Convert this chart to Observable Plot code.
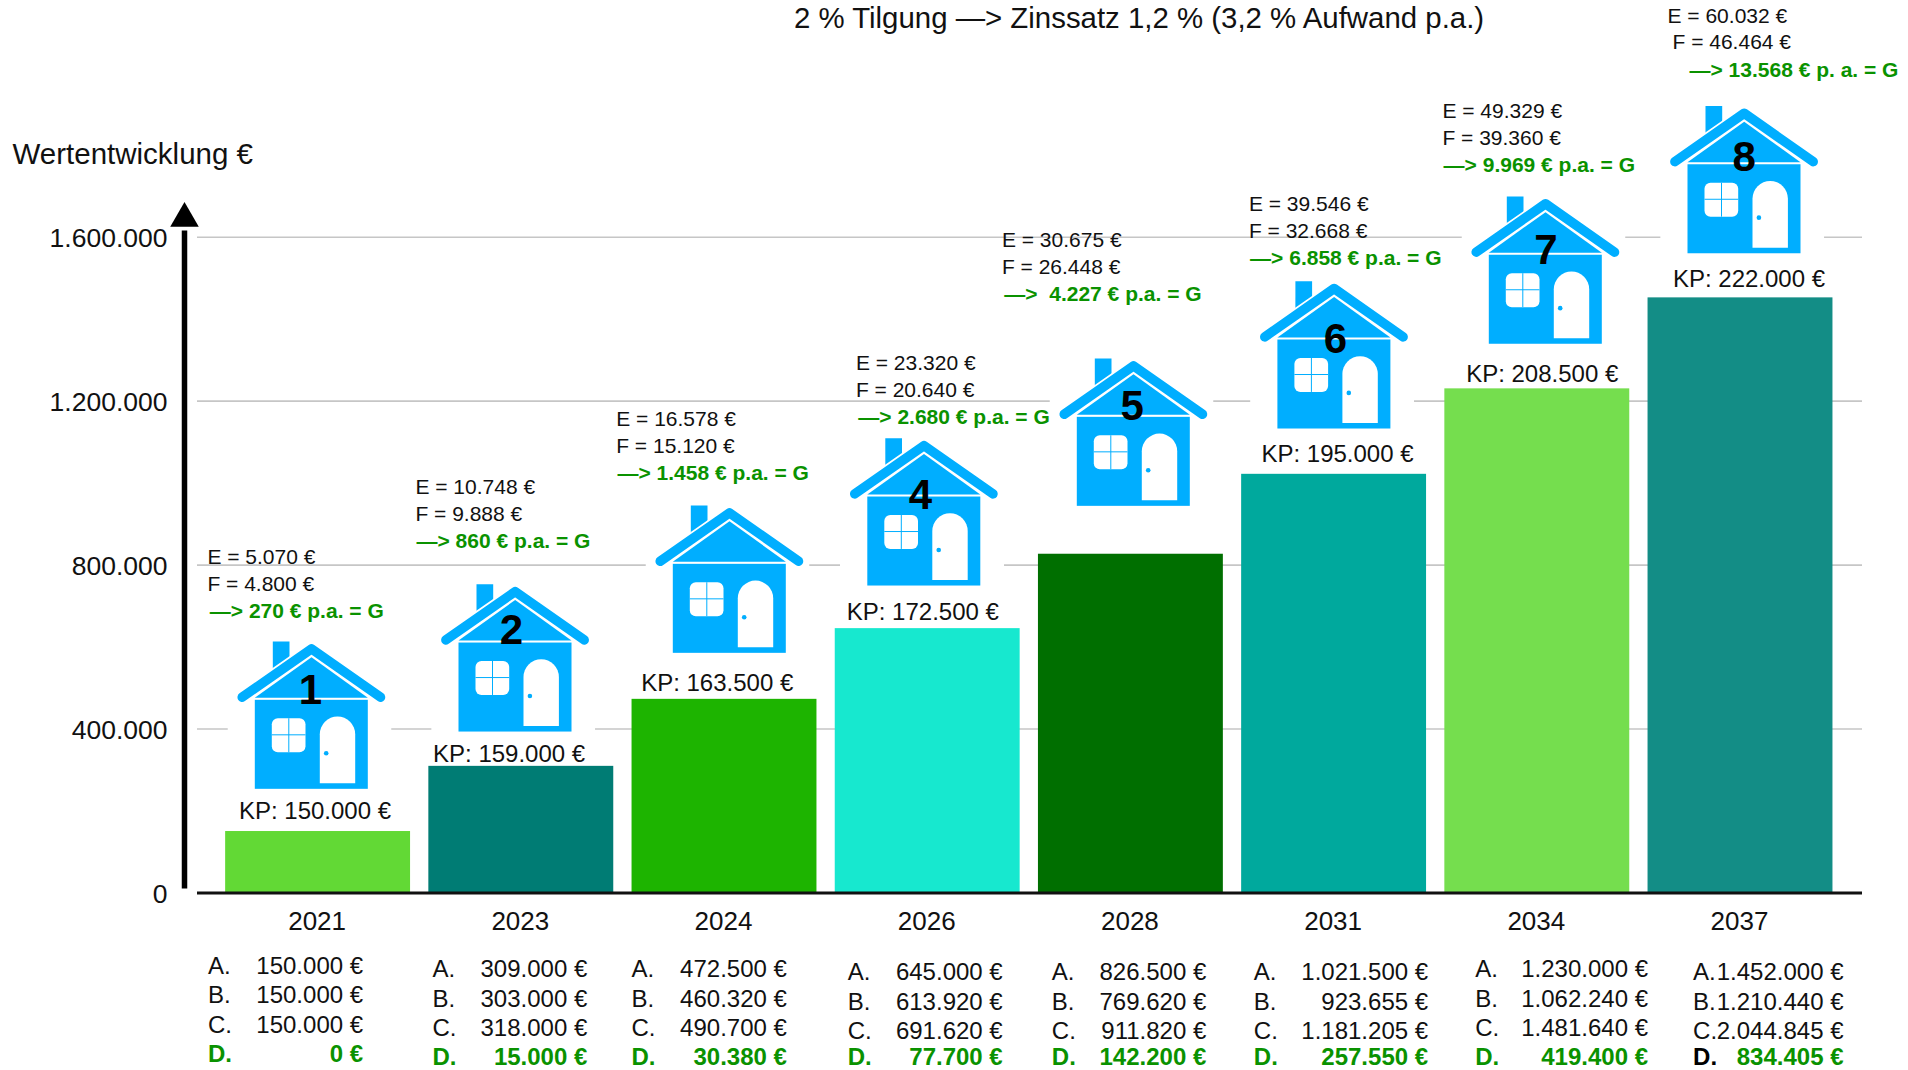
<!DOCTYPE html>
<html lang="de">
<head>
<meta charset="utf-8">
<title>Wertentwicklung</title>
<script src="https://cdn.jsdelivr.net/npm/d3@7"></script>
<script src="https://cdn.jsdelivr.net/npm/@observablehq/plot@0.6"></script>
<style>
html,body{margin:0;padding:0;background:#fff;overflow:hidden}
svg{display:block}
</style>
</head>
<body>
<div id="chart"></div>
<script>
// ---- values ----
const years = ["2021","2023","2024","2026","2028","2031","2034","2037"];
const valueA = [150000,309000,472500,645000,826500,1021500,1230000,1452000];
const valueB = [150000,303000,460320,613920,769620,923655,1062240,1210440];
const valueC = [150000,318000,490700,691620,911820,1181205,1481640,2044845];
const valueD = [0,15000,30380,77700,142200,257550,419400,834405];
const rent   = [5070,10748,16578,23320,30675,39546,49329,60032];      // E
const finance= [4800,9888,15120,20640,26448,32668,39360,46464];       // F
const gain   = [270,860,1458,2680,4227,6858,9969,13568];              // G
const price  = [150000,159000,163500,172500,null,195000,208500,222000]; // KP
const houseNumbers = ["1","2","","4","5","6","7","8"];
const yTicks = [0,400000,800000,1200000,1600000];
const barColors = ["#62d935","#007c74","#1db400","#17e8cf","#006f00","#00a99d","#75de4e","#138d86"];

// ---- layout offsets (pixels, relative to each bar) ----
const houseDx = [-8.6,-8.1,3,-5.7,0.6,-2,6.2,1.7];
const houseDy = [-117,-109.1,-120.8,-117.4,-122.7,-120.1,-119.4,-118.9];
const digitDx = [-1,-3.7,0,-3.5,-1.4,1.2,0.4,0];
const digitDy = [45,42.3,0,53.3,44.4,54.8,49.9,47.5];
const eDx = [-110.7,-105.9,-108.3,-71.8,-129,-85.2,-94.9,-73];
const fDx = [-110.7,-105.9,-108.3,-71.8,-129,-85.2,-94.9,-68];
const gDx = [-108.3,-104.8,-107,-69.4,-126.6,-84,-93.7,-51];
const blockDy = [-274.2,-278.6,-280,-265.3,-314,-269.6,-277.5,-282];
const kpDx = [-3.1,-12.2,-7.3,-4.9,0,3.4,4.9,8.5];
const kpDy = [-20.2,-12.2,-16.2,-16.1,0,-19.9,-14.8,-18.8];
const letterDx = [-110.2,-88.8,-93,-80,-79.1,-80.3,-62.1,-47.4];
const amountDx = [45,66,62.4,75,75.4,94,110.7,103];
const tableDy = [73.6,76.7,76.7,79.7,79.7,79.7,76.7,79.7];
const rowStep = 29.2;
const lastRowLimit = 164.7;

const green = "#0a9200", ink = "#111";
const blue = "#00aeff";
const de = n => d3.format(",")(n).replace(/,/g, ".");
const eur = n => de(n) + " €";

// house picture (own white ground, hides the grid lines behind it)
const houseSvg = `<svg xmlns="http://www.w3.org/2000/svg" width="164" height="168" viewBox="0 0 164 168">
<rect width="164" height="168" fill="#fff"/>
<polygon points="45.3,11 62,11 62,27 45.3,39" fill="${blue}"/>
<polyline points="14.7,66.7 84,18.3 153,66.7" fill="none" stroke="#fff" stroke-width="13" stroke-linecap="round" stroke-linejoin="round"/>
<polyline points="14.7,66.7 84,18.3 153,66.7" fill="none" stroke="${blue}" stroke-width="9.5" stroke-linecap="round" stroke-linejoin="round"/>
<polygon points="27.3,67.3 84,26.7 140.3,67.3" fill="${blue}"/>
<rect x="27.3" y="69.3" width="113" height="89" fill="${blue}"/>
<rect x="44.3" y="87.7" width="33.7" height="34" rx="6" fill="#fff"/>
<rect x="60.8" y="87.7" width="1" height="34" fill="${blue}"/>
<rect x="44.3" y="103.8" width="33.7" height="1" fill="${blue}"/>
<path d="M92.3 152.7V103.7a17.7 17.7 0 0 1 35.4 0V152.7Z" fill="#fff"/>
<circle cx="98.7" cy="122.7" r="2.3" fill="${blue}"/>
</svg>`;
const houseUri = "data:image/svg+xml," + encodeURIComponent(houseSvg);

const bars = years.map((year,i) => ({year, value:valueA[i], color:barColors[i]}));

const houses = years.map((year,i) =>
  Plot.image([bars[i]], {x:"year", y:"value", src:() => houseUri, width:164, height:168, dx:houseDx[i], dy:houseDy[i]}));

const labelMarks = years.flatMap((year,i) => {
  const at = (text, dx, dy, opts) => Plot.text([bars[i]], {
    x:"year", y:"value", text:() => text, dx, dy, fontSize:21, textAnchor:"start", fill:ink, ...opts});
  const marks = [
    at(`E = ${eur(rent[i])}`, eDx[i], blockDy[i]),
    at(`F = ${eur(finance[i])}`, fDx[i], blockDy[i]+26.8),
    at(`—> ${i===4?" ":""}${eur(gain[i])} ${i===7?"p. a.":"p.a."} = G`, gDx[i], blockDy[i]+54, {fill:green, fontWeight:"bold"})
  ];
  if (price[i] != null) marks.push(at(`KP: ${eur(price[i])}`, kpDx[i], kpDy[i], {fontSize:24, textAnchor:"middle"}));
  if (houseNumbers[i]) marks.push(at(houseNumbers[i], houseDx[i]+2+digitDx[i], houseDy[i]-69+digitDy[i], {fontSize:42, fontWeight:"bold", textAnchor:"middle", fill:"#000"}));
  return marks;
});

const tableMarks = years.flatMap((year,i) => {
  const rows = [["A.",valueA[i]],["B.",valueB[i]],["C.",valueC[i]],["D.",valueD[i]]];
  return rows.flatMap(([letter,value],r) => {
    const isD = r === 3;
    const base = {x:() => year, y:() => 0, dy:Math.min(tableDy[i]+r*rowStep, lastRowLimit), fontSize:24,
                  fontWeight:isD?"bold":"normal"};
    return [
      Plot.text([0], {...base, text:() => letter, dx:letterDx[i], textAnchor:"start", fill:isD ? (i===7?"#000":green) : ink}),
      Plot.text([0], {...base, text:() => eur(value), dx:amountDx[i], textAnchor:"end", fill:isD?green:ink})
    ];
  });
});

const chart = Plot.plot({
  width:1908, height:1070,
  marginLeft:197, marginRight:46, marginTop:236.7, marginBottom:177.5,
  style:{fontFamily:"'Liberation Sans',Arial,sans-serif", background:"#fff", color:ink},
  x:{type:"band", domain:years, range:[216,1841.6], paddingInner:0.09, paddingOuter:0.045, round:false},
  y:{domain:[0,1600000]},
  color:{type:"identity"},
  marks:[
    Plot.ruleY(yTicks.slice(1), {stroke:"#c6c6c6", strokeWidth:1.6}),
    ...houses,
    Plot.barY(bars, {x:"year", y:"value", fill:"color"}),
    Plot.ruleY([0], {stroke:"#111", strokeWidth:3}),
    // vertical value axis arrow
    Plot.ruleX([years[0]], {y1:10000, y2:1615000, dx:-133.6, stroke:"#000", strokeWidth:5.5}),
    Plot.dot([years[0]], {x:d=>d, y:()=>1600000, dx:-133.6, dy:-18.6, symbol:"triangle", r:10.6, fill:"#000", stroke:"none"}),
    Plot.axisY({ticks:yTicks, tickSize:0, tickPadding:30, fontSize:26.5, fill:"#111", label:null, tickFormat:de, dy:1.2}),
    Plot.axisX({tickSize:0, tickPadding:19, fontSize:26, fill:"#111", label:null, dx:-1}),
    Plot.text(["Wertentwicklung €"], {frameAnchor:"top-left", dx:-185, dy:-82.5, lineAnchor:"middle", textAnchor:"start", fontSize:29.5, fill:ink}),
    Plot.text(["2 % Tilgung —> Zinssatz 1,2 % (3,2 % Aufwand p.a.)"], {frameAnchor:"top-left", dx:941.5, dy:-219, lineAnchor:"middle", textAnchor:"middle", fontSize:29.4, fill:ink}),
    ...labelMarks,
    ...tableMarks
  ]
});
document.getElementById("chart").append(chart);
</script>
</body>
</html>
